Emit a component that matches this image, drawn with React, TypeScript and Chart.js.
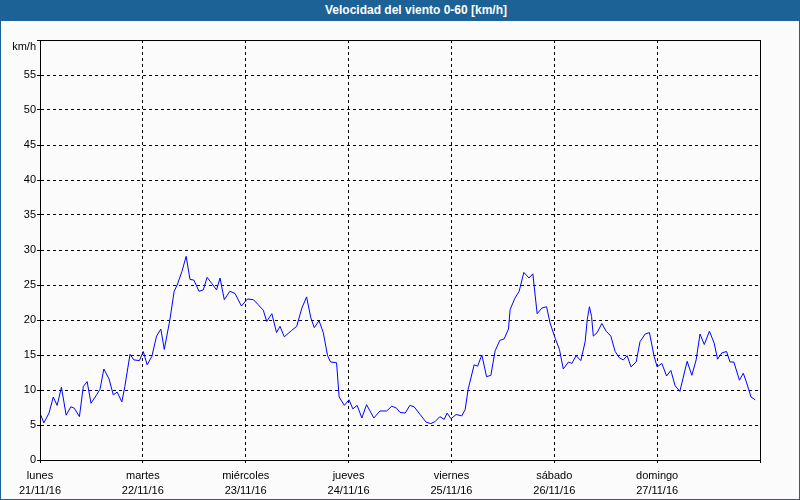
import React, { useEffect, useRef } from "react";
import { Chart, registerables } from "chart.js";

Chart.register(...registerables);

const dayNames = ["lunes", "martes", "miércoles", "jueves", "viernes", "sábado", "domingo"];
const dayDates = ["21/11/16", "22/11/16", "23/11/16", "24/11/16", "25/11/16", "26/11/16", "27/11/16"];
const yUnit = "km/h";
const titleText = "Velocidad del viento 0-60 [km/h]";

// hours since lunes 21/11/16 00:00
const hours = [
  0.2, 0.9, 2.1, 3.1, 4.0, 5.0, 6.1, 7.2, 8.0, 9.2, 10.1, 11.0, 11.9, 13.2, 14.0, 14.9, 16.1, 17.1, 18.0, 19.1,
  19.8, 21.0, 21.9, 23.2, 24.1, 25.0, 26.1, 27.2, 28.2, 29.0, 30.3, 31.3, 32.0, 33.1, 34.1, 35.0, 35.9, 37.1, 38.1, 39.0,
  40.1, 41.2, 42.0, 43.0, 44.3, 45.5, 47.0, 48.4, 49.8, 50.9, 52.1, 52.9, 54.1, 55.2, 56.0, 57.0, 58.7, 59.9, 61.1, 62.2,
  63.2, 64.0, 65.1, 66.1, 67.1, 67.8, 69.2, 69.8, 71.0, 72.1, 73.0, 74.0, 75.1, 76.2, 77.9, 79.3, 80.9, 82.1, 83.2, 84.0,
  85.2, 86.3, 87.3, 88.7, 90.1, 91.2, 92.2, 93.3, 94.3, 95.0, 95.9, 97.1, 98.4, 99.2, 99.9, 101.3, 102.1, 103.1, 104.2, 105.2,
  106.2, 107.3, 108.3, 109.3, 109.7, 110.8, 111.8, 112.9, 114.1, 115.0, 116.0, 117.1, 118.2, 119.0, 120.2, 121.2, 122.1, 123.3, 124.1, 125.1,
  126.2, 127.2, 127.7, 128.2, 128.7, 129.1, 130.0, 131.1, 132.1, 133.2, 134.2, 135.2, 136.1, 137.0, 137.9, 139.1, 140.0, 141.2, 142.2, 143.3,
  144.0, 145.1, 146.2, 147.2, 148.2, 149.3, 151.0, 152.1, 153.1, 154.0, 155.0, 156.2, 157.3, 158.1, 159.1, 160.2, 161.0, 161.9, 163.2, 164.1,
  164.9, 165.9, 166.9,
];

const speeds = [
  6.4, 5.3, 6.7, 9.0, 7.8, 10.4, 6.4, 7.6, 7.4, 6.2, 10.5, 11.2, 8.1, 9.3, 10.1, 13.0, 11.6, 9.3, 9.7, 8.3,
  10.5, 15.1, 14.3, 14.2, 15.5, 13.6, 14.8, 17.7, 18.7, 15.8, 20.0, 24.1, 25.0, 26.9, 29.1, 25.8, 25.7, 24.1, 24.3, 26.1,
  25.2, 24.3, 26.0, 22.9, 24.1, 23.8, 22.0, 23.0, 22.9, 22.2, 21.4, 19.8, 20.9, 18.2, 19.1, 17.6, 18.5, 19.1, 21.7, 23.3,
  20.3, 18.9, 19.9, 18.2, 14.9, 14.0, 13.9, 9.0, 7.8, 8.6, 7.3, 7.8, 6.0, 7.9, 6.0, 7.0, 7.0, 7.7, 7.4, 6.8,
  6.7, 7.8, 7.6, 6.5, 5.4, 5.2, 5.5, 6.2, 5.8, 6.7, 5.9, 6.5, 6.3, 7.2, 10.1, 13.6, 13.4, 15.0, 11.9, 12.1,
  15.6, 17.1, 17.3, 18.7, 21.5, 23.1, 24.1, 26.8, 26.0, 26.6, 20.9, 21.7, 21.9, 19.6, 17.4, 15.8, 13.0, 14.0, 13.8, 14.9,
  14.2, 16.9, 20.1, 21.9, 20.5, 17.7, 18.2, 19.5, 18.4, 17.7, 15.5, 14.6, 14.3, 14.9, 13.3, 14.0, 16.9, 18.0, 18.2, 14.8,
  13.3, 13.8, 12.0, 12.8, 10.6, 9.8, 14.1, 12.1, 14.3, 18.0, 16.5, 18.4, 16.7, 14.4, 15.3, 15.5, 14.0, 14.0, 11.4, 12.4,
  11.0, 9.0, 8.6,
];

const FONT = "'Liberation Sans', Arial, sans-serif";

const framePlugin = {
  id: "frame",
  afterDraw(chart: any) {
    const { ctx, chartArea } = chart;
    ctx.save();
    ctx.strokeStyle = "#000000";
    ctx.lineWidth = 1;
    ctx.setLineDash([]);
    ctx.strokeRect(
      Math.round(chartArea.left) + 0.5,
      Math.round(chartArea.top) + 0.5,
      Math.round(chartArea.right) - Math.round(chartArea.left),
      Math.round(chartArea.bottom) - Math.round(chartArea.top)
    );
    ctx.fillStyle = "#000000";
    ctx.font = "11px " + FONT;
    ctx.textAlign = "right";
    ctx.textBaseline = "middle";
    ctx.fillText(yUnit, chartArea.left - 4, chartArea.top + 7);
    ctx.restore();
  },
};

export default function App() {
  const ref = useRef<HTMLCanvasElement | null>(null);

  useEffect(() => {
    if (!ref.current) return;
    const chart = new Chart(ref.current, {
      type: "line",
      data: {
        datasets: [
          {
            data: hours.map((h, i) => ({ x: h, y: speeds[i] })),
            borderColor: "#0000ff",
            borderWidth: 1,
            pointRadius: 0,
            tension: 0,
            fill: false,
          },
        ],
      },
      options: {
        responsive: false,
        animation: false,
        devicePixelRatio: 1,
        layout: { padding: { top: 40, right: 40, left: 0, bottom: 0 } },
        plugins: {
          legend: { display: false },
          tooltip: { enabled: false },
          title: { display: false },
        },
        scales: {
          x: {
            type: "linear",
            min: 0,
            max: 168,
            afterFit(scale: any) {
              scale.height = 40;
            },
            afterBuildTicks(scale: any) {
              scale.ticks = [0, 24, 48, 72, 96, 120, 144, 168].map((v) => ({ value: v }));
            },
            ticks: {
              stepSize: 24,
              autoSkip: false,
              maxRotation: 0,
              color: "#000000",
              padding: 5,
              font: { family: FONT, size: 11, lineHeight: 1.38 },
              callback: (v: any) => {
                const i = Math.round(Number(v) / 24);
                if (i >= dayNames.length) return "";
                return [dayNames[i], dayDates[i]];
              },
            },
            grid: {
              color: "#000000",
              lineWidth: 1,
              tickLength: 3,
              tickBorderDash: [],
              tickColor: "#000000",
            } as any,
            border: { display: true, color: "#000000", width: 1, dash: [3, 3] },
          },
          y: {
            min: 0,
            max: 60,
            afterFit(scale: any) {
              scale.width = 40;
            },
            ticks: {
              stepSize: 5,
              color: "#000000",
              padding: 1,
              font: { family: FONT, size: 11 },
              callback: (v: any) => (Number(v) >= 60 ? "" : String(v)),
            },
            grid: {
              color: "#000000",
              lineWidth: 1,
              tickLength: 3,
              tickBorderDash: [],
              tickColor: "#000000",
            } as any,
            border: { display: true, color: "#000000", width: 1, dash: [3, 3] },
          },
        },
      },
      plugins: [framePlugin],
    });
    return () => chart.destroy();
  }, []);

  return (
    <div
      style={{
        position: "fixed",
        left: 0,
        top: 0,
        width: 800,
        height: 500,
        boxSizing: "border-box",
        background: "#fbfbfb",
        borderLeft: "1px solid #1d6296",
        borderRight: "1px solid #1d6296",
        borderBottom: "1px solid #1d6296",
        overflow: "hidden",
      }}
    >
      <canvas
        ref={ref}
        width={800}
        height={500}
        style={{ position: "absolute", left: -1, top: 0, width: 800, height: 500 }}
      />
      <div
        style={{
          position: "absolute",
          left: -1,
          top: 0,
          width: 800,
          height: 21,
          background: "#1d6296",
        }}
      >
        <div
          style={{
            position: "absolute",
            left: 416,
            top: 0,
            height: 21,
            lineHeight: "21px",
            transform: "translateX(-50%)",
            whiteSpace: "nowrap",
            color: "#ffffff",
            fontFamily: FONT,
            fontWeight: "bold",
            fontSize: 12,
          }}
        >
          {titleText}
        </div>
      </div>
    </div>
  );
}
